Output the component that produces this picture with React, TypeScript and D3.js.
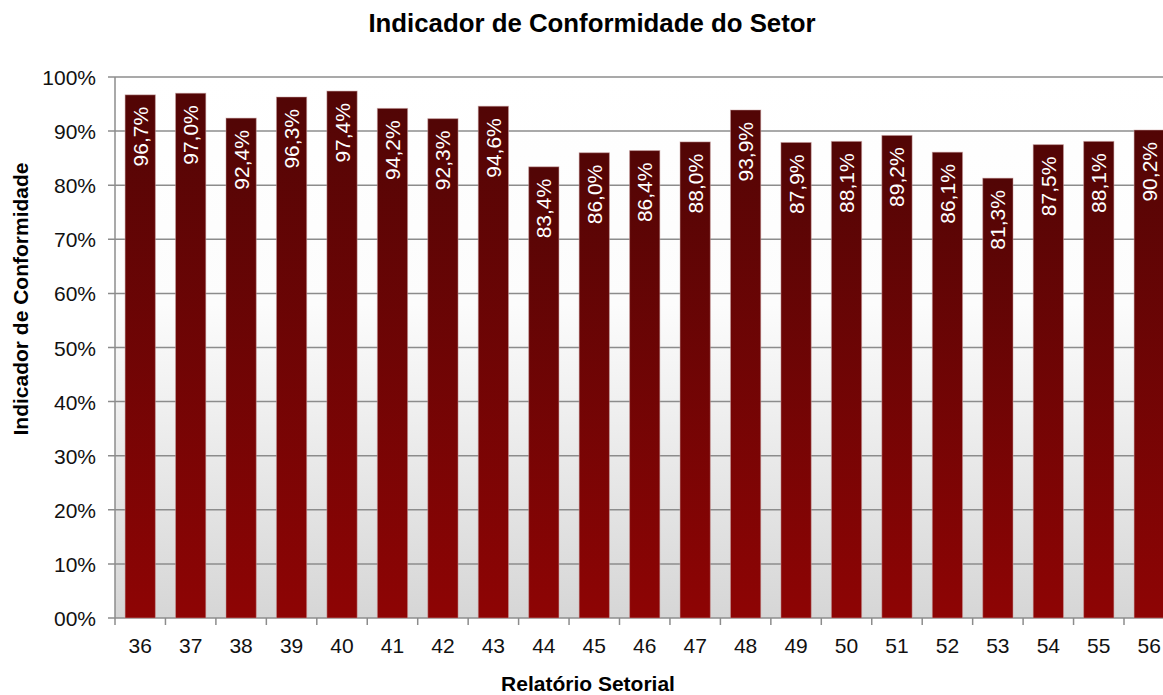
import React from 'react';
import * as d3 from 'd3';

const relatorios = ['36', '37', '38', '39', '40', '41', '42', '43', '44', '45', '46', '47', '48', '49', '50', '51', '52', '53', '54', '55', '56'];
const conformidade = [96.7, 97.0, 92.4, 96.3, 97.4, 94.2, 92.3, 94.6, 83.4, 86.0, 86.4, 88.0, 93.9, 87.9, 88.1, 89.2, 86.1, 81.3, 87.5, 88.1, 90.2];
const yTicks = [0, 10, 20, 30, 40, 50, 60, 70, 80, 90, 100];

const W = 1163, H = 695;
const margin = { top: 77, left: 115, bottom: 618 };
const band = 50.45;

export default function App() {
  React.useEffect(() => {
    document.body.style.margin = '0';
  }, []);

  const x = d3.scaleBand()
    .domain(relatorios)
    .range([margin.left, margin.left + band * relatorios.length])
    .paddingInner(0.4)
    .paddingOuter(0.2);
  const y = d3.scaleLinear().domain([0, 100]).range([margin.bottom, margin.top]);
  const plotRight = margin.left + band * relatorios.length;
  const font = '"Liberation Sans", Arial, sans-serif';
  const fmtTick = (v: number) => (v === 0 ? '00%' : v + '%');
  const fmtVal = (v: number) => v.toFixed(1).replace('.', ',') + '%';

  return (
    <svg width={W} height={H} style={{ display: 'block', fontFamily: font }}>
      <defs>
        <linearGradient id="bg" x1="0" y1="0" x2="0" y2="1">
          <stop offset="0" stopColor="#ffffff" />
          <stop offset="0.42" stopColor="#fcfcfc" />
          <stop offset="1" stopColor="#d6d6d6" />
        </linearGradient>
        <linearGradient id="bar" x1="0" y1="0" x2="0" y2="1">
          <stop offset="0" stopColor="#520505" />
          <stop offset="1" stopColor="#8e0404" />
        </linearGradient>
      </defs>
      <rect width={W} height={H} fill="#fff" />
      {/* plot area background */}
      <rect x={margin.left} y={margin.top} width={plotRight - margin.left} height={margin.bottom - margin.top} fill="url(#bg)" />
      {/* grid lines + y labels */}
      {yTicks.map(t => (
        <g key={t}>
          <line x1={margin.left - 7} x2={plotRight} y1={y(t)} y2={y(t)} stroke="#8c8c8c" strokeWidth={1.5} />
          <text x={96} y={y(t) + 8} textAnchor="end" fontSize={21} fill="#111">{fmtTick(t)}</text>
        </g>
      ))}
      <line x1={margin.left} x2={margin.left} y1={margin.top} y2={margin.bottom} stroke="#8c8c8c" strokeWidth={1.5} />
      {/* bars */}
      {relatorios.map((r, i) => {
        const v = conformidade[i];
        const bx = x(r) as number;
        const bw = x.bandwidth();
        return (
          <g key={r}>
            <rect x={bx} y={y(v)} width={bw} height={y(0) - y(v)} fill="url(#bar)" stroke="#c9a0a0" strokeOpacity={0.5} strokeWidth={1} />
            <text
              transform={`translate(${bx + bw / 2 + 7.5},${y(v) + 12}) rotate(-90)`}
              textAnchor="end"
              fontSize={21}
              fill="#fff"
            >{fmtVal(v)}</text>
          </g>
        );
      })}
      {/* x axis ticks */}
      {d3.range(relatorios.length + 1).map(i => {
        const tx = margin.left + i * band;
        return <line key={i} x1={tx} x2={tx} y1={margin.bottom} y2={margin.bottom + 7} stroke="#8c8c8c" strokeWidth={1.5} />;
      })}
      {relatorios.map(r => (
        <text key={r} x={(x(r) as number) + x.bandwidth() / 2} y={653} textAnchor="middle" fontSize={21} fill="#111">{r}</text>
      ))}
      <text x={592} y={32} textAnchor="middle" fontSize={25.8} fontWeight="bold" fill="#000">Indicador de Conformidade do Setor</text>
      <text x={588} y={691} textAnchor="middle" fontSize={21} fontWeight="bold" fill="#000">Relatório Setorial</text>
      <text transform="translate(28,299) rotate(-90)" textAnchor="middle" fontSize={21} fontWeight="bold" fill="#000">Indicador de Conformidade</text>
    </svg>
  );
}
